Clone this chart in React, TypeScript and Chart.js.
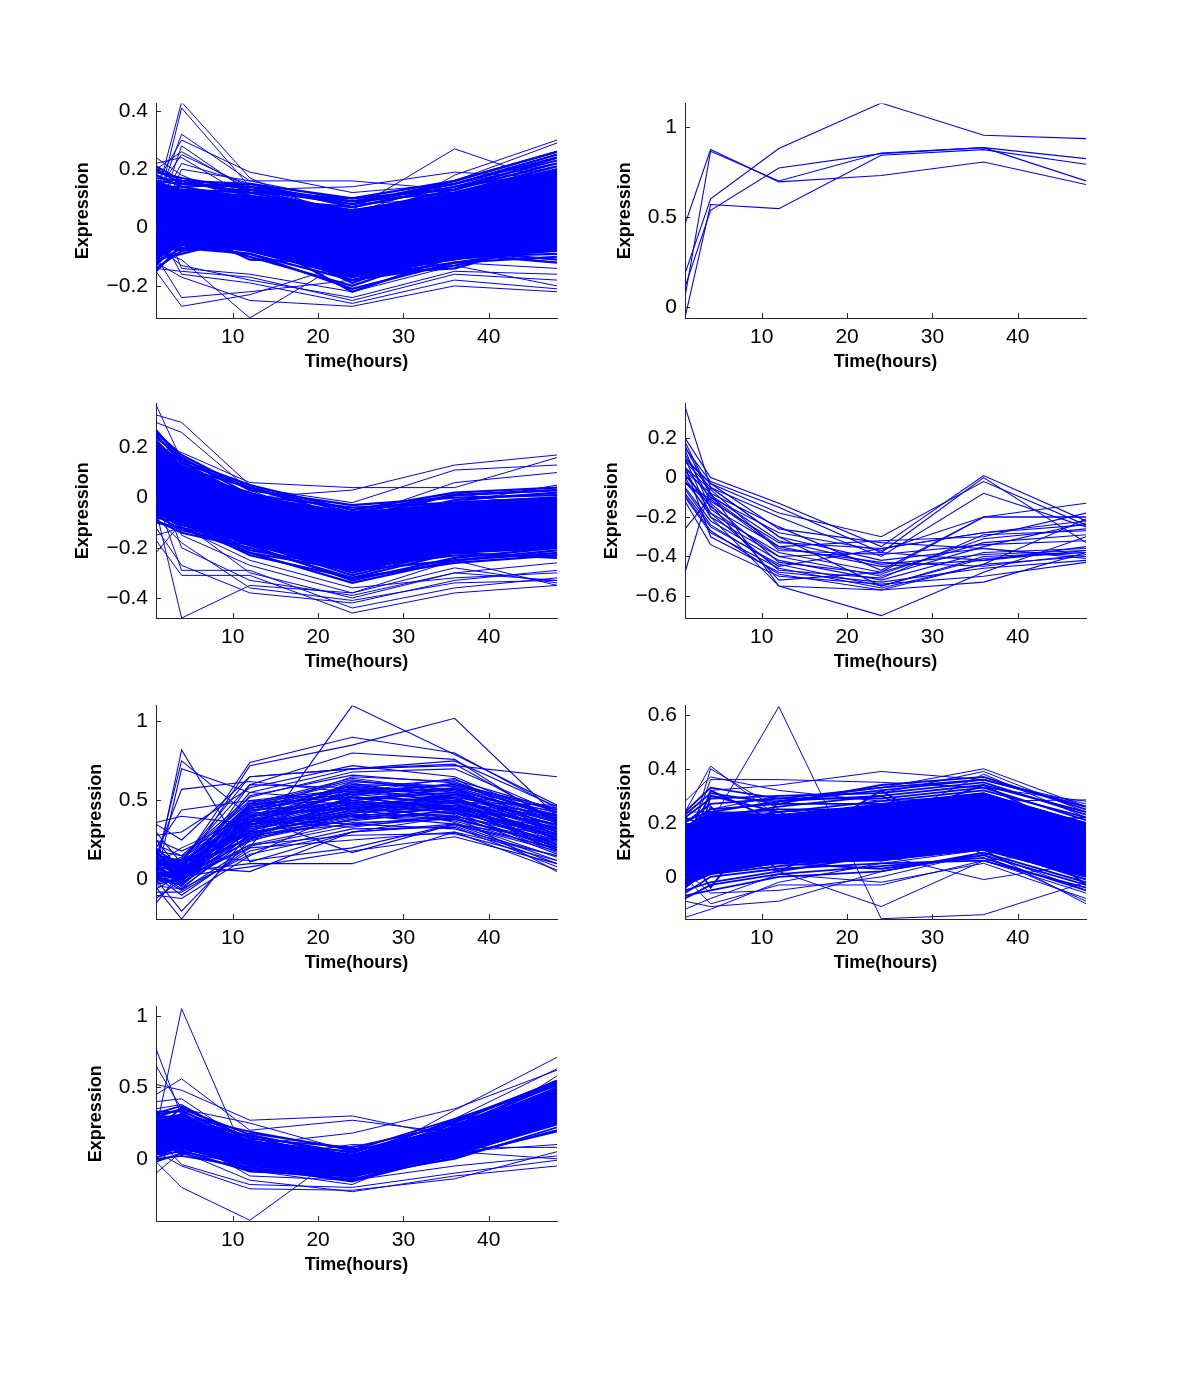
import React, { useEffect, useRef } from 'react';
import { Chart, registerables } from 'chart.js';

Chart.register(...registerables);

const TIMES = [1, 4, 12, 24, 36, 48];
const X_TICKS = [10, 20, 30, 40];
const X_LABEL = 'Time(hours)';
const Y_LABEL = 'Expression';

const P1_YTICKS = [-0.2, 0, 0.2, 0.4];
const P2_YTICKS = [0, 0.5, 1];
const P3_YTICKS = [-0.4, -0.2, 0, 0.2];
const P4_YTICKS = [-0.6, -0.4, -0.2, 0, 0.2];
const P5_YTICKS = [0, 0.5, 1];
const P6_YTICKS = [0, 0.2, 0.4, 0.6];
const P7_YTICKS = [0, 0.5, 1];

// Panel 1: inner region where the profiles overlap completely
const P1_BAND_LO = [-0.11, -0.06, -0.08, -0.17, -0.11, -0.08];
const P1_BAND_HI = [0.16, 0.13, 0.11, 0.06, 0.12, 0.20];
const P1_CORE = [
  [-0.15, -0.06, -0.09, -0.21, -0.12, -0.10],
  [-0.14, -0.08, -0.05, -0.18, -0.13, -0.06],
  [-0.13, -0.04, -0.10, -0.20, -0.08, -0.11],
  [-0.12, -0.07, -0.07, -0.15, -0.11, -0.02],
  [-0.11, -0.09, -0.03, -0.22, -0.10, -0.08],
  [-0.10, -0.03, -0.08, -0.16, -0.14, -0.04],
  [-0.09, -0.05, -0.02, -0.19, -0.06, 0.01],
  [-0.08, -0.01, -0.06, -0.13, -0.09, -0.12],
  [-0.07, -0.06, -0.04, -0.17, -0.04, 0.03],
  [-0.06, 0.00, -0.11, -0.12, -0.07, -0.05],
  [-0.05, -0.02, 0.00, -0.14, -0.03, 0.05],
  [-0.04, 0.02, -0.05, -0.10, -0.05, 0.00],
  [-0.03, -0.04, 0.01, -0.11, -0.01, 0.07],
  [-0.02, 0.03, -0.03, -0.08, -0.02, 0.02],
  [-0.01, 0.01, 0.03, -0.09, 0.01, 0.09],
  [0.00, 0.05, -0.01, -0.06, 0.00, 0.04],
  [0.01, 0.04, 0.04, -0.07, 0.03, 0.11],
  [0.02, 0.06, 0.02, -0.04, -0.03, 0.06],
  [0.03, 0.02, 0.06, -0.05, 0.05, 0.12],
  [0.04, 0.07, 0.00, -0.02, 0.02, 0.08],
  [0.05, 0.05, 0.07, -0.03, 0.06, 0.14],
  [0.06, 0.09, 0.05, 0.00, 0.04, 0.10],
  [0.07, 0.08, 0.02, -0.01, 0.08, 0.16],
  [0.08, 0.10, 0.08, 0.02, 0.07, 0.13],
  [0.09, 0.06, 0.10, 0.01, 0.09, 0.18],
  [0.10, 0.11, 0.06, 0.04, 0.10, 0.15],
  [0.11, 0.12, 0.09, 0.03, 0.12, 0.20],
  [0.12, 0.09, 0.11, 0.06, 0.11, 0.17],
  [0.13, 0.13, 0.12, 0.05, 0.13, 0.22],
  [0.14, 0.14, 0.10, 0.07, 0.14, 0.19],
  [0.15, 0.12, 0.13, 0.08, 0.15, 0.24],
  [0.16, 0.15, 0.14, 0.09, 0.12, 0.21],
  [0.17, 0.16, 0.12, 0.10, 0.16, 0.26],
  [0.18, 0.14, 0.15, 0.07, 0.14, 0.23],
  [0.19, 0.17, 0.13, 0.09, 0.15, 0.25],
  [0.20, 0.15, 0.14, 0.08, 0.16, 0.26],
  [0.21, 0.16, 0.15, 0.10, 0.13, 0.24],
  [0.02, -0.05, -0.08, -0.17, -0.12, -0.07],
  [-0.08, 0.10, 0.08, -0.05, 0.06, 0.09],
  [0.12, 0.00, -0.06, -0.10, -0.06, 0.03],
  [-0.12, 0.13, 0.04, -0.08, 0.10, 0.19],
  [0.15, -0.07, -0.09, -0.18, -0.10, -0.09],
  [0.00, 0.16, 0.11, -0.01, 0.08, 0.20],
  [-0.05, -0.08, 0.13, 0.05, -0.04, 0.15],
];
const P1_EDGE = [
  [0.10, 0.43, 0.17, 0.02, 0.08, 0.12],
  [0.05, 0.41, 0.14, 0.05, 0.10, 0.20],
  [0.08, 0.32, 0.16, 0.16, 0.13, 0.10],
  [0.15, 0.30, 0.19, 0.12, 0.15, 0.22],
  [0.02, 0.28, 0.12, 0.06, 0.27, 0.15],
  [0.20, 0.26, 0.13, 0.14, 0.19, 0.17],
  [0.24, 0.18, 0.08, -0.02, 0.18, 0.30],
  [0.22, 0.24, 0.10, 0.05, 0.16, 0.29],
  [0.06, 0.22, 0.15, 0.08, 0.10, 0.14],
  [0.12, 0.25, 0.14, 0.03, 0.12, 0.18],
  [0.00, 0.20, 0.16, 0.09, 0.14, 0.21],
  [-0.15, -0.27, -0.23, -0.12, -0.10, -0.05],
  [-0.10, -0.24, -0.22, -0.18, -0.12, -0.14],
  [-0.08, -0.11, -0.31, -0.10, -0.08, -0.12],
  [-0.12, -0.17, -0.25, -0.27, -0.20, -0.22],
  [0.00, -0.16, -0.19, -0.26, -0.18, -0.21],
  [-0.14, -0.15, -0.17, -0.25, -0.16, -0.18],
  [-0.06, -0.13, -0.18, -0.24, -0.15, -0.16],
  [0.08, -0.14, -0.16, -0.22, -0.13, -0.20],
];

// Panel 2 (five profiles)
const P2_LINES = [
  [0.46, 0.875, 0.695, 0.73, 0.805, 0.68],
  [0.055, 0.865, 0.70, 0.855, 0.885, 0.70],
  [0.185, 0.60, 0.88, 1.133, 0.954, 0.935],
  [0.11, 0.537, 0.772, 0.852, 0.885, 0.824],
  [-0.06, 0.569, 0.546, 0.843, 0.874, 0.793],
];

// Panel 3
const P3_BAND_LO = [-0.07, -0.10, -0.19, -0.29, -0.22, -0.20];
const P3_BAND_HI = [0.22, 0.13, 0.01, -0.06, -0.02, 0.00];
const P3_CORE = [
  [-0.10, -0.12, -0.22, -0.34, -0.25, -0.21],
  [-0.09, -0.14, -0.20, -0.32, -0.26, -0.23],
  [-0.08, -0.10, -0.23, -0.32, -0.22, -0.24],
  [-0.07, -0.13, -0.19, -0.33, -0.24, -0.20],
  [-0.06, -0.09, -0.22, -0.29, -0.25, -0.22],
  [-0.05, -0.12, -0.18, -0.31, -0.21, -0.18],
  [-0.04, -0.08, -0.21, -0.28, -0.23, -0.23],
  [-0.03, -0.11, -0.17, -0.30, -0.20, -0.17],
  [-0.02, -0.06, -0.19, -0.26, -0.22, -0.20],
  [-0.01, -0.08, -0.15, -0.28, -0.18, -0.15],
  [0.00, -0.05, -0.17, -0.25, -0.20, -0.19],
  [0.00, -0.07, -0.14, -0.27, -0.17, -0.14],
  [0.01, -0.03, -0.16, -0.23, -0.19, -0.18],
  [0.02, -0.05, -0.12, -0.25, -0.15, -0.12],
  [0.03, -0.01, -0.14, -0.21, -0.17, -0.16],
  [0.04, -0.04, -0.11, -0.24, -0.14, -0.11],
  [0.05, 0.00, -0.13, -0.20, -0.16, -0.15],
  [0.06, -0.02, -0.09, -0.22, -0.12, -0.10],
  [0.07, 0.02, -0.11, -0.18, -0.14, -0.13],
  [0.08, -0.01, -0.08, -0.21, -0.11, -0.08],
  [0.09, 0.03, -0.10, -0.17, -0.13, -0.12],
  [0.10, 0.01, -0.06, -0.19, -0.09, -0.07],
  [0.11, 0.05, -0.09, -0.15, -0.12, -0.10],
  [0.12, 0.03, -0.05, -0.17, -0.08, -0.05],
  [0.13, 0.07, -0.07, -0.13, -0.10, -0.09],
  [0.14, 0.04, -0.04, -0.16, -0.07, -0.04],
  [0.15, 0.08, -0.06, -0.12, -0.09, -0.07],
  [0.16, 0.06, -0.02, -0.14, -0.05, -0.02],
  [0.17, 0.10, -0.04, -0.10, -0.07, -0.06],
  [0.18, 0.07, -0.01, -0.13, -0.04, -0.01],
  [0.19, 0.11, -0.03, -0.09, -0.06, -0.05],
  [0.19, 0.09, 0.01, -0.11, -0.02, 0.00],
  [0.20, 0.13, -0.01, -0.07, -0.04, -0.03],
  [0.21, 0.10, 0.02, -0.10, -0.01, 0.02],
  [0.22, 0.14, 0.00, -0.06, -0.03, -0.02],
  [0.23, 0.12, 0.04, -0.08, 0.01, 0.03],
  [0.24, 0.16, 0.01, -0.04, -0.02, 0.00],
  [0.25, 0.14, 0.04, -0.06, 0.01, 0.03],
  [0.26, 0.17, 0.03, -0.03, 0.00, 0.01],
  [0.27, 0.15, 0.05, -0.05, 0.02, 0.04],
];
const P3_EDGE = [
  [0.37, 0.15, -0.02, -0.15, -0.10, -0.08],
  [0.33, 0.30, 0.05, -0.05, -0.02, 0.05],
  [0.30, 0.26, 0.03, -0.12, 0.02, -0.05],
  [0.20, 0.18, 0.06, 0.04, 0.04, 0.16],
  [0.10, 0.08, 0.00, 0.03, 0.13, 0.17],
  [0.15, 0.12, 0.04, -0.02, 0.11, 0.13],
  [0.05, 0.06, -0.03, -0.08, 0.06, 0.10],
  [-0.22, -0.10, -0.30, -0.40, -0.30, -0.33],
  [-0.05, -0.48, -0.35, -0.38, -0.28, -0.34],
  [-0.17, -0.31, -0.31, -0.46, -0.38, -0.35],
  [0.00, -0.29, -0.29, -0.44, -0.36, -0.32],
  [-0.12, -0.27, -0.38, -0.42, -0.33, -0.29],
  [0.08, -0.20, -0.33, -0.39, -0.30, -0.26],
  [-0.08, -0.18, -0.36, -0.41, -0.34, -0.33],
  [0.12, -0.15, -0.27, -0.38, -0.25, -0.35],
  [-0.15, -0.12, -0.25, -0.36, -0.32, -0.30],
];

// Panel 4
const P4_LINES = [
  [0.36, -0.05, -0.30, -0.55, -0.40, -0.38],
  [0.20, 0.00, -0.13, -0.35, 0.01, -0.22],
  [0.15, -0.02, -0.15, -0.38, 0.00, -0.33],
  [0.10, -0.03, -0.18, -0.30, -0.02, -0.24],
  [0.08, -0.05, -0.20, -0.40, -0.08, -0.25],
  [0.18, -0.08, -0.25, -0.47, -0.20, -0.20],
  [0.05, -0.10, -0.28, -0.37, -0.20, -0.13],
  [0.12, -0.12, -0.33, -0.36, -0.28, -0.22],
  [0.02, -0.15, -0.35, -0.32, -0.30, -0.18],
  [-0.02, -0.18, -0.38, -0.48, -0.33, -0.29],
  [0.00, -0.20, -0.40, -0.50, -0.35, -0.23],
  [-0.05, -0.22, -0.42, -0.52, -0.38, -0.36],
  [-0.08, -0.25, -0.44, -0.55, -0.41, -0.38],
  [-0.10, -0.28, -0.46, -0.56, -0.44, -0.40],
  [0.06, -0.30, -0.48, -0.53, -0.46, -0.42],
  [-0.12, -0.34, -0.50, -0.54, -0.50, -0.43],
  [-0.26, -0.10, -0.35, -0.45, -0.42, -0.37],
  [-0.48, -0.05, -0.30, -0.42, -0.36, -0.40],
  [0.03, -0.08, -0.55, -0.70, -0.48, -0.30],
  [0.10, -0.20, -0.55, -0.57, -0.53, -0.38],
  [-0.02, -0.14, -0.52, -0.48, -0.20, -0.20],
  [0.14, -0.16, -0.40, -0.38, -0.42, -0.35],
  [0.05, -0.06, -0.37, -0.39, -0.34, -0.32],
  [-0.06, -0.24, -0.45, -0.36, -0.28, -0.24],
  [0.09, -0.03, -0.26, -0.33, -0.36, -0.41],
  [0.04, -0.18, -0.47, -0.51, -0.29, -0.27],
  [-0.03, -0.11, -0.36, -0.43, -0.45, -0.39],
  [0.01, -0.13, -0.43, -0.49, -0.31, -0.26],
  [0.16, -0.09, -0.32, -0.44, -0.39, -0.37],
  [-0.09, -0.27, -0.49, -0.57, -0.44, -0.21],
];

// Panel 5
const P5_LINES = [
  [0.05, 0.82, 0.11, 0.30, 0.35, 0.20],
  [0.10, 0.75, 0.40, 0.45, 0.50, 0.30],
  [0.00, 0.70, 0.55, 0.50, 0.45, 0.35],
  [0.15, 0.57, 0.62, 0.55, 0.60, 0.40],
  [0.20, 0.44, 0.50, 0.48, 0.42, 0.28],
  [0.36, 0.40, 0.35, 0.40, 0.38, 0.22],
  [0.30, 0.10, 0.74, 0.90, 0.80, 0.45],
  [0.25, 0.05, 0.72, 0.85, 1.02, 0.40],
  [0.02, -0.10, 0.20, 1.10, 0.79, 0.47],
  [0.08, 0.12, 0.65, 0.70, 0.72, 0.65],
  [0.12, 0.00, 0.60, 0.80, 0.76, 0.35],
  [-0.05, -0.25, 0.30, 0.58, 0.55, 0.30],
  [0.00, -0.20, 0.25, 0.52, 0.50, 0.20],
  [-0.10, -0.12, 0.15, 0.45, 0.48, 0.18],
  [-0.15, 0.05, 0.10, 0.10, 0.30, 0.15],
  [0.05, 0.02, 0.08, 0.18, 0.27, 0.10],
  [0.10, 0.08, 0.05, 0.30, 0.40, 0.05],
  [0.18, 0.15, 0.12, 0.20, 0.35, 0.12],
  [0.03, 0.05, 0.35, 0.45, 0.50, 0.32],
  [0.06, 0.00, 0.40, 0.50, 0.55, 0.38],
  [0.09, 0.10, 0.30, 0.40, 0.45, 0.28],
  [0.12, 0.03, 0.45, 0.55, 0.50, 0.35],
  [0.00, -0.03, 0.38, 0.48, 0.58, 0.42],
  [0.15, 0.12, 0.28, 0.35, 0.40, 0.25],
  [0.20, 0.06, 0.42, 0.60, 0.52, 0.30],
  [-0.02, 0.01, 0.33, 0.42, 0.47, 0.22],
  [0.07, 0.09, 0.48, 0.52, 0.44, 0.27],
  [0.11, -0.05, 0.26, 0.38, 0.42, 0.33],
  [0.04, 0.04, 0.36, 0.56, 0.60, 0.45],
  [0.14, 0.07, 0.31, 0.44, 0.49, 0.20],
  [0.01, -0.02, 0.22, 0.36, 0.38, 0.24],
  [0.08, 0.13, 0.44, 0.47, 0.53, 0.37],
  [0.17, 0.02, 0.39, 0.58, 0.48, 0.29],
  [0.05, -0.06, 0.29, 0.41, 0.35, 0.18],
  [0.10, 0.11, 0.46, 0.62, 0.57, 0.40],
  [-0.03, 0.00, 0.34, 0.49, 0.46, 0.26],
  [0.13, 0.04, 0.27, 0.39, 0.43, 0.31],
  [0.06, 0.08, 0.41, 0.53, 0.61, 0.43],
  [0.02, -0.04, 0.37, 0.33, 0.41, 0.16],
  [0.09, 0.14, 0.50, 0.57, 0.54, 0.34],
  [0.16, 0.06, 0.32, 0.46, 0.39, 0.21],
  [-0.06, 0.03, 0.24, 0.43, 0.45, 0.28],
  [0.12, 0.10, 0.43, 0.65, 0.62, 0.39],
  [0.04, -0.01, 0.36, 0.50, 0.36, 0.14],
  [0.19, 0.09, 0.47, 0.54, 0.58, 0.36],
  [0.07, 0.02, 0.30, 0.37, 0.44, 0.23],
  [0.00, 0.06, 0.40, 0.61, 0.51, 0.32],
  [0.14, -0.03, 0.28, 0.44, 0.37, 0.19],
  [0.22, 0.15, 0.52, 0.68, 0.70, 0.42],
  [0.28, 0.30, 0.58, 0.72, 0.65, 0.38],
  [0.35, 0.25, 0.65, 0.70, 0.75, 0.46],
  [-0.08, -0.08, 0.18, 0.32, 0.33, 0.08],
  [0.03, 0.01, 0.20, 0.25, 0.30, 0.06],
  [0.10, 0.05, 0.55, 0.70, 0.73, 0.37],
  [-0.12, 0.00, 0.22, 0.28, 0.29, 0.12],
  [0.25, 0.18, 0.38, 0.35, 0.32, 0.15],
  [0.02, 0.07, 0.34, 0.62, 0.59, 0.44],
  [0.08, -0.02, 0.45, 0.52, 0.49, 0.47],
  [0.15, 0.12, 0.60, 0.58, 0.56, 0.41],
  [0.05, 0.00, 0.33, 0.47, 0.52, 0.25],
  [0.00, 0.08, 0.26, 0.53, 0.43, 0.17],
  [0.12, 0.02, 0.38, 0.40, 0.54, 0.36],
  [0.18, 0.04, 0.48, 0.64, 0.56, 0.33],
  [-0.04, -0.06, 0.16, 0.30, 0.34, 0.10],
  [0.06, 0.10, 0.42, 0.45, 0.40, 0.27],
  [0.09, 0.03, 0.36, 0.55, 0.64, 0.30],
  [0.10, 0.20, 0.40, 0.17, 0.35, 0.25],
  [0.02, 0.04, 0.31, 0.46, 0.47, 0.29],
  [0.11, 0.07, 0.37, 0.51, 0.55, 0.34],
  [0.07, -0.02, 0.43, 0.57, 0.51, 0.26],
  [0.16, 0.11, 0.29, 0.42, 0.49, 0.39],
  [0.04, 0.01, 0.39, 0.55, 0.57, 0.31],
  [0.13, 0.05, 0.33, 0.48, 0.44, 0.22],
  [-0.01, 0.03, 0.45, 0.59, 0.53, 0.36],
  [0.09, 0.09, 0.35, 0.43, 0.50, 0.41],
  [0.18, 0.00, 0.41, 0.50, 0.58, 0.28],
  [0.03, 0.06, 0.27, 0.40, 0.46, 0.35],
  [0.14, 0.02, 0.47, 0.63, 0.55, 0.30],
  [0.06, 0.12, 0.38, 0.54, 0.48, 0.24],
  [0.10, -0.04, 0.32, 0.45, 0.52, 0.40],
  [0.01, 0.08, 0.44, 0.49, 0.42, 0.19],
  [0.15, 0.03, 0.36, 0.60, 0.59, 0.37],
  [0.08, 0.01, 0.25, 0.38, 0.47, 0.33],
  [0.12, 0.13, 0.49, 0.56, 0.50, 0.25],
  [0.05, -0.01, 0.40, 0.46, 0.54, 0.43],
  [0.17, 0.07, 0.34, 0.52, 0.45, 0.20],
  [0.00, 0.02, 0.30, 0.41, 0.40, 0.27],
  [0.20, 0.05, 0.53, 0.66, 0.61, 0.38],
  [0.03, -0.07, 0.21, 0.34, 0.39, 0.21],
  [0.09, 0.04, 0.46, 0.58, 0.63, 0.44],
  [0.13, 0.09, 0.35, 0.50, 0.45, 0.29],
  [-0.03, 0.00, 0.28, 0.47, 0.50, 0.32],
];

// Panel 6
const P6_BAND_LO = [-0.03, 0.01, 0.05, 0.06, 0.10, 0.00];
const P6_BAND_HI = [0.18, 0.24, 0.23, 0.27, 0.31, 0.20];
const P6_CORE = [
  [-0.08, -0.03, 0.01, 0.04, 0.07, -0.05],
  [-0.07, -0.05, 0.00, 0.02, 0.09, -0.02],
  [-0.06, 0.00, 0.03, 0.05, 0.06, -0.04],
  [-0.05, -0.02, 0.02, 0.08, 0.10, 0.00],
  [-0.04, 0.03, 0.05, 0.03, 0.08, -0.03],
  [-0.03, 0.01, 0.04, 0.07, 0.12, 0.02],
  [-0.02, 0.05, 0.07, 0.06, 0.11, -0.01],
  [-0.01, 0.02, 0.06, 0.10, 0.14, 0.04],
  [0.00, 0.07, 0.09, 0.09, 0.13, 0.01],
  [0.01, 0.04, 0.08, 0.12, 0.16, 0.06],
  [0.02, 0.09, 0.11, 0.11, 0.15, 0.03],
  [0.03, 0.06, 0.10, 0.14, 0.18, 0.08],
  [0.04, 0.11, 0.13, 0.13, 0.17, 0.05],
  [0.05, 0.08, 0.12, 0.16, 0.20, 0.10],
  [0.06, 0.13, 0.15, 0.15, 0.19, 0.07],
  [0.07, 0.10, 0.14, 0.18, 0.22, 0.12],
  [0.08, 0.15, 0.17, 0.17, 0.21, 0.09],
  [0.09, 0.12, 0.16, 0.20, 0.24, 0.14],
  [0.10, 0.17, 0.19, 0.19, 0.23, 0.11],
  [0.11, 0.14, 0.18, 0.22, 0.26, 0.16],
  [0.12, 0.19, 0.21, 0.21, 0.25, 0.13],
  [0.13, 0.16, 0.20, 0.24, 0.28, 0.18],
  [0.14, 0.21, 0.23, 0.23, 0.27, 0.15],
  [0.15, 0.18, 0.22, 0.26, 0.30, 0.20],
  [0.16, 0.23, 0.25, 0.25, 0.29, 0.17],
  [0.17, 0.20, 0.24, 0.28, 0.32, 0.22],
  [0.18, 0.25, 0.27, 0.27, 0.31, 0.19],
  [0.19, 0.22, 0.26, 0.30, 0.34, 0.24],
  [0.20, 0.27, 0.29, 0.29, 0.33, 0.21],
  [0.21, 0.24, 0.28, 0.32, 0.36, 0.26],
  [0.22, 0.29, 0.30, 0.31, 0.35, 0.23],
  [0.23, 0.31, 0.27, 0.34, 0.37, 0.25],
  [0.24, 0.33, 0.29, 0.33, 0.36, 0.26],
  [0.20, 0.05, 0.12, 0.24, 0.30, 0.02],
  [-0.05, 0.30, 0.24, 0.10, 0.20, 0.22],
  [0.10, -0.04, 0.28, 0.30, 0.12, 0.10],
  [0.00, 0.26, 0.02, 0.20, 0.34, 0.15],
  [0.15, 0.10, 0.18, 0.06, 0.25, -0.03],
  [0.22, 0.18, 0.08, 0.32, 0.08, 0.20],
  [0.06, 0.32, 0.20, 0.14, 0.10, 0.05],
];
const P6_EDGE = [
  [0.28, 0.37, 0.32, 0.28, 0.30, 0.20],
  [0.24, 0.41, 0.22, 0.18, 0.25, 0.15],
  [0.10, 0.36, 0.36, 0.35, 0.33, 0.28],
  [0.05, 0.32, 0.34, 0.39, 0.36, 0.27],
  [0.15, 0.30, 0.28, 0.33, 0.40, 0.26],
  [0.20, 0.25, 0.30, 0.31, 0.39, 0.24],
  [0.12, 0.20, 0.63, -0.155, -0.14, -0.02],
  [0.05, 0.08, 0.02, -0.11, 0.06, 0.10],
  [0.10, 0.15, 0.10, 0.08, -0.01, 0.05],
  [-0.15, -0.12, -0.02, 0.05, 0.10, -0.10],
  [-0.09, -0.11, -0.09, 0.02, 0.08, -0.09],
  [0.00, -0.10, -0.03, -0.03, 0.06, -0.06],
  [-0.12, -0.08, 0.01, -0.02, 0.05, -0.08],
  [0.02, -0.06, -0.05, 0.00, 0.09, -0.05],
  [0.24, 0.24, 0.24, 0.26, 0.28, 0.285],
  [0.08, 0.40, 0.25, 0.20, 0.38, 0.22],
];

// Panel 7
const P7_BAND_LO = [0.03, 0.07, -0.04, -0.11, 0.04, 0.25];
const P7_BAND_HI = [0.27, 0.29, 0.13, 0.03, 0.22, 0.47];
const P7_CORE = [
  [-0.02, 0.04, -0.08, -0.14, 0.01, 0.20],
  [0.00, 0.02, -0.06, -0.16, 0.03, 0.24],
  [0.01, 0.06, -0.09, -0.12, 0.00, 0.22],
  [0.03, 0.05, -0.04, -0.15, 0.05, 0.27],
  [0.04, 0.09, -0.07, -0.11, 0.02, 0.19],
  [0.06, 0.07, -0.03, -0.13, 0.07, 0.30],
  [0.07, 0.12, -0.05, -0.09, 0.04, 0.25],
  [0.09, 0.10, -0.01, -0.12, 0.09, 0.33],
  [0.10, 0.14, -0.04, -0.08, 0.06, 0.28],
  [0.12, 0.13, 0.01, -0.10, 0.11, 0.36],
  [0.13, 0.17, -0.02, -0.06, 0.08, 0.31],
  [0.15, 0.15, 0.03, -0.09, 0.13, 0.39],
  [0.16, 0.20, 0.00, -0.05, 0.10, 0.34],
  [0.18, 0.18, 0.05, -0.07, 0.15, 0.42],
  [0.19, 0.22, 0.02, -0.04, 0.12, 0.37],
  [0.21, 0.21, 0.07, -0.06, 0.17, 0.45],
  [0.22, 0.25, 0.04, -0.02, 0.14, 0.40],
  [0.24, 0.24, 0.09, -0.05, 0.19, 0.48],
  [0.25, 0.28, 0.06, -0.01, 0.16, 0.43],
  [0.27, 0.26, 0.11, -0.03, 0.21, 0.50],
  [0.28, 0.31, 0.08, 0.01, 0.18, 0.46],
  [0.30, 0.29, 0.13, -0.02, 0.23, 0.53],
  [0.31, 0.34, 0.10, 0.03, 0.20, 0.49],
  [0.33, 0.33, 0.15, 0.00, 0.25, 0.55],
  [0.32, 0.37, 0.12, 0.05, 0.22, 0.52],
  [0.29, 0.35, 0.17, 0.02, 0.27, 0.54],
  [0.26, 0.30, 0.19, 0.06, 0.28, 0.51],
  [0.20, 0.36, 0.14, 0.08, 0.24, 0.47],
  [0.05, 0.27, 0.16, 0.04, 0.26, 0.44],
  [0.14, 0.08, -0.06, -0.15, 0.06, 0.41],
  [0.23, 0.11, -0.08, -0.10, 0.03, 0.35],
  [0.08, 0.32, 0.08, -0.07, 0.20, 0.26],
  [0.17, 0.03, 0.18, 0.07, 0.12, 0.29],
  [0.11, 0.23, -0.05, -0.13, 0.26, 0.53],
];
const P7_EDGE = [
  [0.77, 0.30, 0.15, 0.00, 0.10, 0.40],
  [0.65, 0.35, 0.25, 0.05, 0.20, 0.45],
  [0.52, 0.48, 0.27, 0.30, 0.15, 0.30],
  [0.45, 0.56, 0.20, 0.27, 0.18, 0.35],
  [0.40, 0.42, 0.10, 0.18, 0.35, 0.62],
  [0.20, 1.05, -0.05, -0.12, 0.02, 0.25],
  [-0.02, -0.20, -0.43, 0.09, 0.05, 0.10],
  [-0.10, 0.05, -0.15, -0.23, -0.12, -0.05],
  [0.05, -0.05, -0.21, -0.22, -0.14, 0.05],
  [0.15, -0.04, -0.18, -0.20, -0.10, -0.01],
  [0.30, 0.25, 0.05, -0.05, 0.34, 0.71],
  [0.25, 0.30, 0.15, 0.00, 0.28, 0.63],
  [0.10, 0.20, -0.08, -0.18, 0.12, 0.58],
  [0.35, 0.38, 0.12, -0.10, 0.05, 0.00],
  [0.00, 0.15, -0.12, -0.15, -0.05, 0.02],
  [0.18, 0.10, 0.00, 0.10, 0.08, 0.08],
];

const LINE_COLOR = '#0000ff';
const AXIS_COLOR = '#262626';
const FONT = "'Liberation Sans', Arial, Helvetica, sans-serif";

const Y_AXIS_W = 100;
const PAD_TOP = 20;
const PAD_RIGHT = 20;
const X_AXIS_H = 70;

type PanelSpec = {
  left: number; top: number; right: number; bottom: number;
  yMin: number; yMax: number; yTicks: number[];
  bandLo: number[] | null; bandHi: number[] | null;
  core: number[][]; edge: number[][];
  coreWidth: number; edgeWidth: number;
  titlePad: number;
};

const PANELS: PanelSpec[] = [
  { left: 156, top: 103, right: 557, bottom: 318, yMin: -0.31, yMax: 0.425, yTicks: P1_YTICKS, bandLo: P1_BAND_LO, bandHi: P1_BAND_HI, core: P1_CORE, edge: P1_EDGE, coreWidth: 2.2, edgeWidth: 1, titlePad: 16.4 },
  { left: 685, top: 103, right: 1086, bottom: 318, yMin: -0.062, yMax: 1.13, yTicks: P2_YTICKS, bandLo: null, bandHi: null, core: [], edge: P2_LINES, coreWidth: 1, edgeWidth: 1.1, titlePad: 28.9 },
  { left: 156, top: 403, right: 557, bottom: 618, yMin: -0.48, yMax: 0.375, yTicks: P3_YTICKS, bandLo: P3_BAND_LO, bandHi: P3_BAND_HI, core: P3_CORE, edge: P3_EDGE, coreWidth: 2.2, edgeWidth: 1, titlePad: 16.4 },
  { left: 685, top: 403, right: 1086, bottom: 618, yMin: -0.712, yMax: 0.375, yTicks: P4_YTICKS, bandLo: null, bandHi: null, core: [], edge: P4_LINES, coreWidth: 1, edgeWidth: 1.1, titlePad: 16.4 },
  { left: 156, top: 705, right: 557, bottom: 919, yMin: -0.25, yMax: 1.10, yTicks: P5_YTICKS, bandLo: null, bandHi: null, core: [], edge: P5_LINES, coreWidth: 1, edgeWidth: 1.1, titlePad: 29.4 },
  { left: 685, top: 705, right: 1086, bottom: 919, yMin: -0.156, yMax: 0.634, yTicks: P6_YTICKS, bandLo: P6_BAND_LO, bandHi: P6_BAND_HI, core: P6_CORE, edge: P6_EDGE, coreWidth: 1.8, edgeWidth: 1, titlePad: 29.4 },
  { left: 156, top: 1006, right: 557, bottom: 1221, yMin: -0.435, yMax: 1.065, yTicks: P7_YTICKS, bandLo: P7_BAND_LO, bandHi: P7_BAND_HI, core: P7_CORE, edge: P7_EDGE, coreWidth: 1.8, edgeWidth: 1, titlePad: 29.4 },
];

const fmtTick = (v: number) => {
  const a = Math.round(Math.abs(v) * 100) / 100;
  return (v < -1e-9 ? '\u2212' : '') + String(a);
};

const inwardTicks = {
  id: 'inwardTicks',
  afterDraw(chart: any) {
    const { ctx, chartArea: a, scales } = chart;
    const xs = scales.x;
    const ys = scales.y;
    ctx.save();
    ctx.strokeStyle = AXIS_COLOR;
    ctx.lineWidth = 1;
    ctx.beginPath();
    xs.ticks.forEach((t: any) => {
      const px = Math.round(xs.getPixelForValue(t.value)) + 0.5;
      ctx.moveTo(px, a.bottom);
      ctx.lineTo(px, a.bottom - 5);
    });
    ys.ticks.forEach((t: any) => {
      const py = Math.round(ys.getPixelForValue(t.value)) + 0.5;
      ctx.moveTo(a.left, py);
      ctx.lineTo(a.left + 5, py);
    });
    ctx.stroke();
    ctx.restore();
  },
};

const toPoints = (row: number[]) => row.map((v, i) => ({ x: TIMES[i], y: v }));

function lineDataset(row: number[], width: number) {
  return {
    data: toPoints(row),
    borderColor: LINE_COLOR,
    borderWidth: width,
    pointRadius: 0,
    fill: false,
    tension: 0,
  };
}

function buildDatasets(spec: PanelSpec) {
  const ds: any[] = [];
  if (spec.bandLo && spec.bandHi) {
    ds.push({
      data: toPoints(spec.bandLo), borderColor: LINE_COLOR, borderWidth: 1,
      pointRadius: 0, fill: false, tension: 0,
    });
    ds.push({
      data: toPoints(spec.bandHi), borderColor: LINE_COLOR, borderWidth: 1,
      backgroundColor: LINE_COLOR, pointRadius: 0, fill: '-1', tension: 0,
    });
  }
  spec.core.forEach((r) => ds.push(lineDataset(r, spec.coreWidth)));
  spec.edge.forEach((r) => ds.push(lineDataset(r, spec.edgeWidth)));
  return ds;
}

function Panel({ spec }: { spec: PanelSpec }) {
  const ref = useRef<HTMLCanvasElement | null>(null);
  const w = spec.right - spec.left + Y_AXIS_W + PAD_RIGHT;
  const h = spec.bottom - spec.top + PAD_TOP + X_AXIS_H;
  useEffect(() => {
    if (!ref.current) return;
    const chart = new Chart(ref.current, {
      type: 'line',
      data: { datasets: buildDatasets(spec) },
      options: {
        animation: false,
        responsive: false,
        maintainAspectRatio: false,
        devicePixelRatio: 1,
        events: [],
        layout: { padding: { left: 0, top: PAD_TOP, right: PAD_RIGHT, bottom: 0 }, autoPadding: false },
        plugins: { legend: { display: false }, tooltip: { enabled: false }, filler: { propagate: false } },
        scales: {
          x: {
            type: 'linear',
            min: 1,
            max: 48,
            afterBuildTicks: (s: any) => { s.ticks = X_TICKS.map((v) => ({ value: v })); },
            afterFit: (s: any) => { s.height = X_AXIS_H; },
            grid: { display: false, drawTicks: false },
            border: { display: true, color: AXIS_COLOR, width: 1 },
            ticks: {
              color: '#000', font: { family: FONT, size: 21 }, padding: 7,
              maxRotation: 0, autoSkip: false,
              callback: (v: any) => fmtTick(Number(v)),
            },
            title: {
              display: true, text: X_LABEL, color: '#000',
              font: { family: FONT, size: 18, weight: 'bold' },
              padding: { top: 0, bottom: 15.4 },
            },
          },
          y: {
            type: 'linear',
            min: spec.yMin,
            max: spec.yMax,
            afterBuildTicks: (s: any) => { s.ticks = spec.yTicks.map((v) => ({ value: v })); },
            afterFit: (s: any) => { s.width = Y_AXIS_W; },
            grid: { display: false, drawTicks: false },
            border: { display: true, color: AXIS_COLOR, width: 1 },
            ticks: {
              color: '#000', font: { family: FONT, size: 21 }, padding: 8,
              autoSkip: false,
              callback: (v: any) => fmtTick(Number(v)),
            },
            title: {
              display: true, text: Y_LABEL, color: '#000',
              font: { family: FONT, size: 18, weight: 'bold' },
              padding: { top: spec.titlePad, bottom: 0 },
            },
          },
        },
      } as any,
      plugins: [inwardTicks],
    });
    return () => chart.destroy();
  }, [spec]);
  return (
    <canvas
      ref={ref}
      width={w}
      height={h}
      style={{
        position: 'absolute',
        left: spec.left - Y_AXIS_W,
        top: spec.top - PAD_TOP,
        width: w,
        height: h,
      }}
    />
  );
}

export default function App() {
  return (
    <div style={{ position: 'absolute', left: 0, top: 0, width: 1200, height: 1374, background: '#fff', overflow: 'hidden' }}>
      {PANELS.map((p, i) => (
        <Panel key={i} spec={p} />
      ))}
    </div>
  );
}
